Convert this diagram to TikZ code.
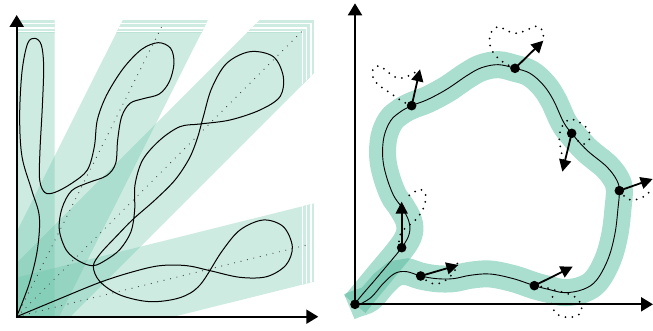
\documentclass[tikz,border=0pt]{standalone}
\usetikzlibrary{arrows.meta,calc}
\definecolor{tealc}{RGB}{102,194,165}
\definecolor{stripback}{RGB}{205,235,225}
\definecolor{bandcol}{RGB}{170,222,207}
\definecolor{banddark}{RGB}{128,203,182}
\tikzset{
 axisarrow/.style={line width=2pt,-{Triangle[length=12pt,width=14pt]}},
 vecarrow/.style={line width=1.8pt,-{Triangle[length=12pt,width=12pt]}},
 curveline/.style={line width=1pt,black},
 rayline/.style={line width=1.2pt,black!75,dash pattern=on 0pt off 6.6pt,line cap=round},
 dotloop/.style={line width=2pt,dash pattern=on 0pt off 7pt,line cap=round},
 bandline/.style={line width=27pt,bandcol,line cap=butt,line join=round},
}
\begin{document}
\begin{tikzpicture}[x=1pt,y=1pt]
\useasboundingbox (0,0) rectangle (653,330);
\coordinate (O1) at (16.7,13.3);
\def\hw{38}
\foreach \a in {90,63.4,45,14}{
 \begin{scope}
  \clip ($(O1)+(\a+90:\hw)+(\a+180:60)$) -- ($(O1)+(\a+90:\hw)+(\a:700)$) -- ($(O1)+(\a-90:\hw)+(\a:700)$) -- ($(O1)+(\a-90:\hw)+(\a+180:60)$) -- cycle;
  \begin{scope}[even odd rule]
   \clip (-20,-20) rectangle (700,400) (16.7,13.3) rectangle (302,297.7);
   \foreach \k in {3,2,1,0}{
     \filldraw[fill=stripback,draw=white,line width=1.8pt] (16.7,13.3) rectangle ({302+4.4*\k},{297.7+4.4*\k});
   }
  \end{scope}
  \fill[tealc,fill opacity=0.33] (16.7,13.3) rectangle (302,297.7);
 \end{scope}
}
\coordinate (R2) at (161.7,303.3);
\coordinate (R3) at (303.3,300);
\coordinate (R4) at (306.7,85);
\draw[rayline] (O1) -- (R2);
\draw[rayline] (O1) -- (R3);
\draw[rayline] (O1) -- (R4);
\begin{scope}[shift={(0,330)},x=0.33333pt,y=-0.33333pt]
\draw[curveline] plot[smooth,tension=0.55] coordinates {(50,950) (170,900) (300,847) (400,815) (480,797) (560,797) (630,812) (720,832) (800,830) (858,795) (877,740) (850,680) (790,660) (720,690) (665,755) (600,855) (540,893) (450,905) (360,885) (300,845) (280,800) (300,762) (350,708) (400,657) (465,600) (525,540) (568,475) (592,415) (610,350) (635,265) (680,190) (750,155) (820,170) (850,230) (840,290) (780,330) (690,360) (600,372) (540,380) (480,420) (428,480) (405,555) (404,630) (393,695) (360,748) (318,780) (280,797) (240,785) (200,752) (178,690) (186,625) (215,572) (265,548) (320,527) (347,490) (353,420) (365,350) (390,310) (430,296) (478,282) (508,245) (522,190) (512,145) (475,128) (425,148) (370,205) (320,285) (292,360) (283,440) (262,510) (215,550) (165,577) (135,578) (119,540) (120,450) (127,320) (131,200) (124,135) (105,115) (83,130) (66,215) (59,350) (66,470) (95,570) (118,650) (112,750) (88,850) (50,950)};
\end{scope}
\coordinate (YT1) at (16.7,315);
\coordinate (XT1) at (318.3,13.3);
\draw[axisarrow] ($(O1)+(0,-1)$) -- (YT1);
\draw[axisarrow] ($(O1)+(-1,0)$) -- (XT1);
% right panel
\begin{scope}[shift={(330,330)},x=0.33333pt,y=-0.33333pt]
\coordinate (P0) at (75,913);
\coordinate (P1) at (215,743);
\coordinate (P2) at (245,317);
\coordinate (P3) at (555,205);
\coordinate (P4) at (725,400);
\coordinate (P5) at (868,572);
\coordinate (P6) at (613,857);
\coordinate (P7) at (272,828);
\coordinate (T1) at (215,605);
\coordinate (T2) at (270,208);
\coordinate (T3) at (640,122);
\coordinate (T4) at (697,515);
\coordinate (T5) at (968,537);
\coordinate (T6) at (728,800);
\coordinate (T7) at (385,795);
\draw[bandline] plot[smooth,tension=0.6] coordinates {(P0) (145,828) (P1) (238,700) (236,662) (215,622) (190,585) (168,525) (158,470) (162,410) (182,362) (212,335) (P2) (292,299) (350,268) (412,226) (455,203) (505,194) (P3) (600,220) (640,255) (670,300) (700,365) (P4) (770,450) (830,500) (860,540) (P5) (864,625) (855,700) (835,775) (800,840) (760,868) (705,878) (655,868) (P6) (550,836) (480,822) (420,826) (370,836) (320,836) (P7) (230,815) (195,820) (160,850) (120,895) (P0) (58,920)};
\begin{scope}
\clip (284,789.3) -- (234.2,774.7) -- (176.9,783.8) -- (131.4,821.4) -- (95.9,862.5) -- (59.9,875.5) -- (42.9,882.5) -- (73.1,957.5) -- (90.1,950.5) -- (144.1,927.5) -- (188.6,878.6) -- (213.1,856.2) -- (225.8,855.3) -- (260,866.7) -- cycle;
\draw[bandline,banddark] (P0) -- (P1);
\end{scope}
\draw[line width=0.9pt] plot[smooth cycle,tension=0.6] coordinates {(P0) (145,828) (P1) (238,700) (236,662) (215,622) (190,585) (168,525) (158,470) (162,410) (182,362) (212,335) (P2) (292,299) (350,268) (412,226) (455,203) (505,194) (P3) (600,220) (640,255) (670,300) (700,365) (P4) (770,450) (830,500) (860,540) (P5) (864,625) (855,700) (835,775) (800,840) (760,868) (705,878) (655,868) (P6) (550,836) (480,822) (420,826) (370,836) (320,836) (P7) (230,815) (195,820) (160,850) (120,895)};
% dotted loops
\draw[dotloop] plot[smooth,tension=0.6] coordinates {(P1) (207,725) (210,705) (225,685) (245,670) (265,650) (280,625) (287,600) (285,578) (270,568) (250,578) (233,590)};
\draw[dotloop] plot[smooth,tension=0.6] coordinates {(P2) (215,303) (185,282) (150,258) (130,235) (130,205) (150,198) (172,215) (205,235) (235,228) (262,213)};
\draw[dotloop] plot[smooth,tension=0.6] coordinates {(P3) (520,187) (495,165) (480,135) (482,100) (505,80) (530,92) (560,100) (595,88) (620,78) (638,92) (640,112)};
\draw[dotloop] plot[smooth,tension=0.6] coordinates {(700,480) (692,445) (688,410) (697,378) (720,358) (750,368) (775,390) (778,418) (755,432) (P4)};
\draw[dotloop] plot[smooth,tension=0.6] coordinates {(P5) (890,595) (910,600) (930,595) (950,585) (962,570)};
\draw[dotloop] plot[smooth,tension=0.6] coordinates {(P6) (645,862) (680,872) (710,880) (740,895) (755,920) (745,945) (715,952) (685,945) (668,925) (665,900) (672,880)};
\draw[dotloop] plot[smooth,tension=0.6] coordinates {(P7) (295,845) (315,852) (340,845) (362,828) (378,805) (383,785)};
\end{scope}
\coordinate (O2) at (355,25.7);
\coordinate (YT2) at (355,326.7);
\coordinate (XT2) at (653,25.7);
\draw[axisarrow] ($(O2)+(0,-1)$) -- (YT2);
\draw[axisarrow] ($(O2)+(-1,0)$) -- (XT2);
\begin{scope}[shift={(330,330)},x=0.33333pt,y=-0.33333pt]
\foreach \i in {1,...,7}{\draw[vecarrow] (P\i) -- (T\i);}
\foreach \i in {0,...,7}{\fill (P\i) circle (4.8pt);}
\end{scope}
\end{tikzpicture}
\end{document}
